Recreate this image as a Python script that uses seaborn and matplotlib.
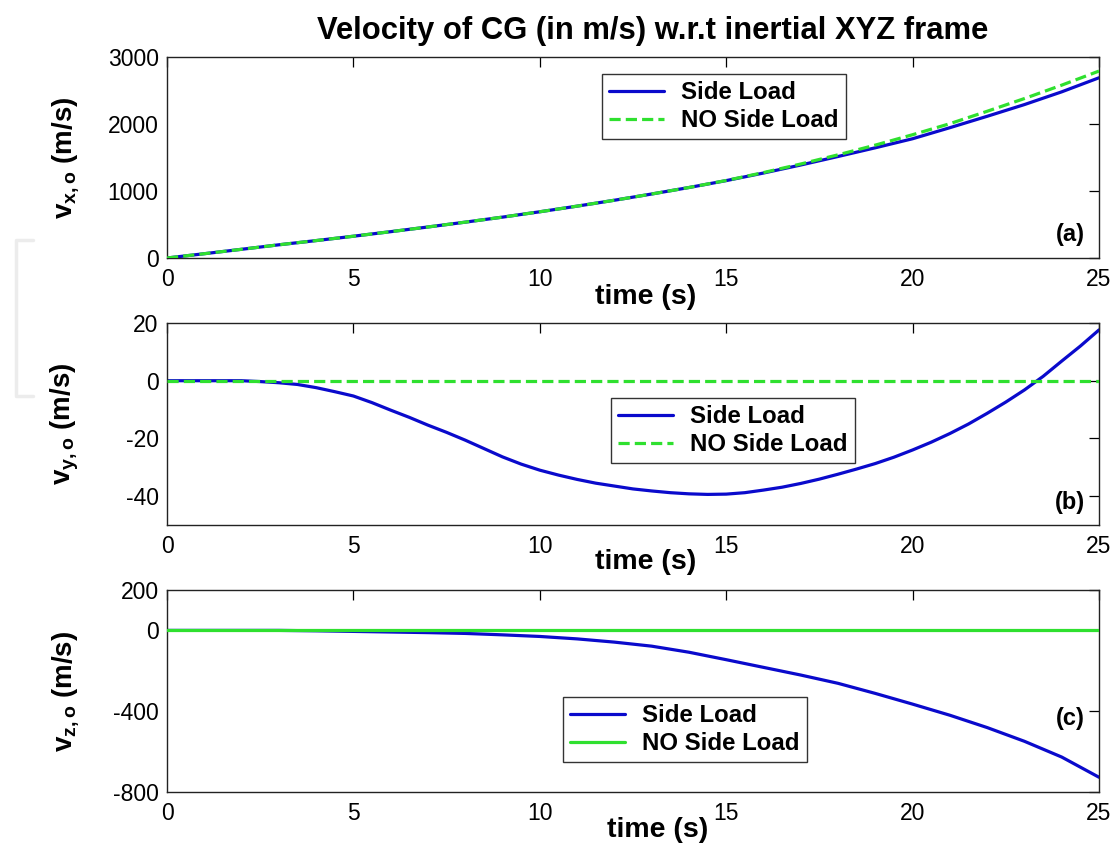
import numpy as np
import matplotlib
matplotlib.use("Agg")
import matplotlib.pyplot as plt
from matplotlib.lines import Line2D
import seaborn as sns

# Simulation time samples (s)
time_s = [0, 1, 2, 3, 4, 5, 6, 7, 8, 9, 10, 11, 12, 13, 14, 15, 16, 17, 18, 19,
          20, 21, 22, 23, 24, 25]
time_half_s = [0, 0.5, 1, 1.5, 2, 2.5, 3, 3.5, 4, 4.5, 5, 5.5, 6, 6.5, 7, 7.5,
               8, 8.5, 9, 9.5, 10, 10.5, 11, 11.5, 12, 12.5, 13, 13.5, 14, 14.5,
               15, 15.5, 16, 16.5, 17, 17.5, 18, 18.5, 19, 19.5, 20, 20.5, 21,
               21.5, 22, 22.5, 23, 23.5, 24, 24.5, 25]

# Velocity of CG along inertial X (m/s)
vx_side = [0, 64, 130, 197, 260, 325, 393, 463, 535, 610, 690, 774, 862, 955,
           1052, 1155, 1268, 1388, 1515, 1645, 1780, 1945, 2115, 2290, 2480, 2690]
vx_noside = [0, 64, 130, 197, 260, 325, 393, 463, 535, 610, 690, 774, 862, 955,
             1052, 1157, 1275, 1403, 1540, 1685, 1840, 2005, 2190, 2380, 2580, 2790]

# Velocity of CG along inertial Y (m/s), half-second samples
vy_side = [0, 0, 0, 0, 0, -0.3, -0.7, -1.3, -2.4, -3.8, -5.3, -7.6, -10.2, -12.7,
           -15.4, -17.9, -20.6, -23.5, -26.4, -28.9, -31.0, -32.7, -34.2, -35.5,
           -36.5, -37.5, -38.2, -38.8, -39.2, -39.4, -39.3, -38.8, -37.9, -36.9,
           -35.6, -34.1, -32.4, -30.6, -28.7, -26.5, -24.0, -21.3, -18.3, -15.0,
           -11.3, -7.4, -3.2, 1.5, 6.8, 12.0, 17.6]
vy_noside = [0] * 51

# Velocity of CG along inertial Z (m/s)
vz_side = [0, 0, 0, 0, -2, -5, -8, -11, -15, -22, -30, -42, -58, -78, -108, -145,
           -183, -221, -262, -312, -365, -420, -481, -549, -627, -727]
vz_noside = [0] * 26

x_ticks = [0, 5, 10, 15, 20, 25]
y_ticks = [[0, 1000, 2000, 3000], [-40, -20, 0, 20], [-800, -400, 0, 200]]
y_limits = [(0, 3000), (-50, 20), (-800, 200)]
y_labels = [r"$\mathbf{v_{x,o}}$ (m/s)", r"$\mathbf{v_{y,o}}$ (m/s)",
            r"$\mathbf{v_{z,o}}$ (m/s)"]
panel_tags = ["(a)", "(b)", "(c)"]
series_names = ["Side Load", "NO Side Load"]

sns.set_style("white")
plt.rcParams["font.family"] = ["Liberation Sans", "DejaVu Sans"]
plt.rcParams["mathtext.fontset"] = "custom"
plt.rcParams["mathtext.rm"] = "Liberation Sans"
plt.rcParams["mathtext.bf"] = "Liberation Sans:bold"
plt.rcParams["mathtext.it"] = "Liberation Sans:italic"
plt.rcParams["axes.unicode_minus"] = False
for key in ["text.color", "axes.labelcolor", "xtick.color", "ytick.color"]:
    plt.rcParams[key] = "black"

W, H = 1114, 850
fig = plt.figure(figsize=(W / 100, H / 100), dpi=100)
fig.patch.set_facecolor("white")

# axes boxes in pixels: left, top, right, bottom
boxes = [(167, 57, 1099, 258), (167, 323, 1099, 525), (167, 590, 1099, 792)]
BLUE = "#0a0acc"
GREEN = "#2fe02f"

data = [(time_s, vx_side, vx_noside, "--"),
        (time_half_s, vy_side, vy_noside, "--"),
        (time_s, vz_side, vz_noside, "-")]
legend_corners = [(602, 74), (611, 398), (563, 697)]
tag_y = [235, 503, 718]
xlabel_x = [646, 646, 658]
xlabel_y = [297, 562, 830]

for i, (l, t, r, b) in enumerate(boxes):
    ax = fig.add_axes([l / W, 1 - b / H, (r - l) / W, (b - t) / H])
    tt, side, noside, ls = data[i]
    sns.lineplot(x=tt, y=side, ax=ax, color=BLUE, lw=2.3,
                 label=series_names[0], zorder=2)
    sns.lineplot(x=tt, y=noside, ax=ax, color=GREEN, lw=2.3,
                 label=series_names[1], zorder=3)
    if ls == "--":
        ax.lines[-1].set_linestyle((0, (3.5, 1.6)))
    ax.set_xlim(0, 25)
    ax.set_ylim(*y_limits[i])
    ax.set_xticks(x_ticks)
    ax.set_yticks(y_ticks[i])
    ax.tick_params(direction="in", length=7, width=0.9, top=True, right=True,
                   labelsize=16.5, pad=6)
    ax.tick_params(axis="x", pad=7)
    for sp in ax.spines.values():
        sp.set_color("#222222")
        sp.set_linewidth(1.0)
        sp.set_visible(True)
    ax.set_xlabel("")
    ax.set_ylabel(y_labels[i], fontsize=20, fontweight="bold")
    ax.yaxis.set_label_coords(-0.092, 0.5)
    lx, ly = legend_corners[i]
    leg = ax.legend(loc="upper left", bbox_to_anchor=(lx / W, 1 - ly / H),
                    bbox_transform=fig.transFigure, fancybox=False,
                    framealpha=1, edgecolor="#333333",
                    prop={"size": 17.3, "weight": "bold"},
                    handlelength=2.3, handletextpad=0.7, borderpad=0.3,
                    labelspacing=0.2, borderaxespad=0)
    leg.get_frame().set_linewidth(1.0)
    fig.text(1085 / W, 1 - tag_y[i] / H, panel_tags[i], ha="right", va="center",
             fontsize=17, fontweight="bold")
    fig.text(xlabel_x[i] / W, 1 - xlabel_y[i] / H, "time (s)", ha="center",
             va="center", fontsize=20.5, fontweight="bold")

fig.text(653 / W, 1 - 31 / H, "Velocity of CG (in m/s) w.r.t inertial XYZ frame",
         ha="center", va="center", fontsize=22.3, fontweight="bold")

# faint bracket at the left margin
bx = [33 / W, 16 / W, 16 / W, 33 / W]
by = [1 - 240 / H, 1 - 240 / H, 1 - 396 / H, 1 - 396 / H]
fig.add_artist(Line2D(bx, by, transform=fig.transFigure, color="#ececec", lw=2.5))

fig.savefig("out.png", dpi=100, facecolor="white")
